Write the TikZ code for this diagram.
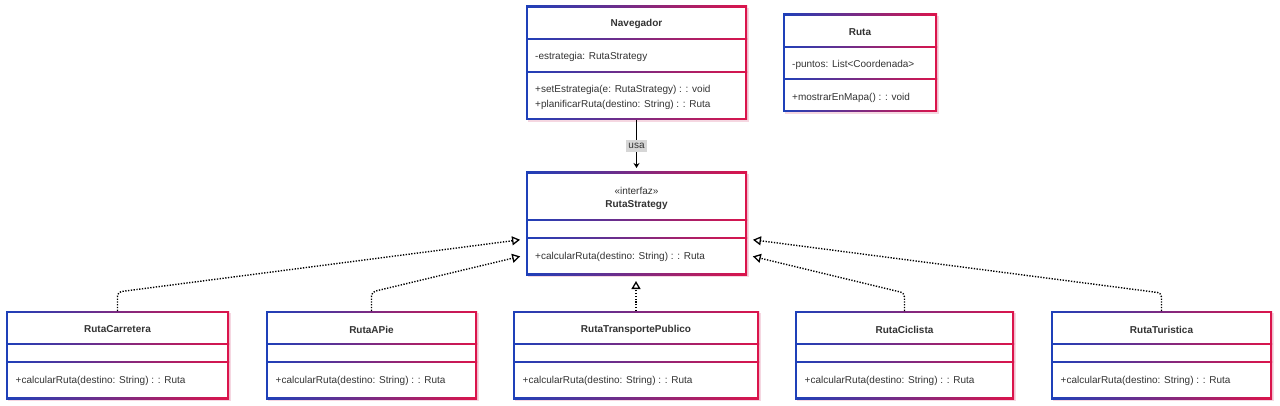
\documentclass[tikz,border=0pt]{standalone}
\usepackage{fontspec}
\setmainfont{Liberation Sans}
\usetikzlibrary{arrows.meta,fit,calc}
\definecolor{cb}{RGB}{30,64,185}
\definecolor{cr}{RGB}{220,20,75}
\definecolor{txt}{RGB}{51,51,51}
\definecolor{lblbg}{RGB}{214,214,214}
\definecolor{shd}{RGB}{245,215,225}
\newcommand{\umlclass}[7]{%
  \fill[shd] (#2+2,#3+2) rectangle (#4+2,#5+2);
  \shade[left color=cb, right color=cr] (#2,#3) rectangle (#4,#5);
  \fill[white] (#2+1.8,#3+1.8) rectangle (#4-1.8,#5-1.8);
  \shade[left color=cb, right color=cr] (#2,#6-0.7) rectangle (#4,#6+0.7);
  \shade[left color=cb, right color=cr] (#2,#7-0.7) rectangle (#4,#7+0.7);
  \node[fit={(#2,#3) (#4,#5)}, inner sep=0pt, outer sep=0pt] (#1) {};
}
\tikzset{
  lbl/.style={text=txt, font=\fontsize{10}{12}\selectfont, inner sep=0pt},
  ttl/.style={lbl, font=\fontsize{10}{12}\selectfont\bfseries},
  mem/.style={lbl, anchor=west},
  realize/.style={draw=black, line width=1.4pt, dash pattern=on 1.3pt off 1.5pt,
    -{Triangle[open, length=8pt, width=9pt, line width=1.3pt]}, shorten >=6pt, rounded corners=4pt},
  uses/.style={draw=black, line width=1.2pt, -{Stealth[length=5pt, width=6pt]}, shorten >=4pt}
}
\begin{document}
\begin{tikzpicture}[x=1pt,y=-1pt]
\path[use as bounding box, fill=white] (0,0) rectangle (1280,406);

% Navegador
\umlclass{nav}{526}{6}{747}{120}{39}{72}
\node[ttl] (navT) at (636.5,24) {Navegador};
\node[mem] (navA) at (535,56.5) {-estrategia: RutaStrategy};
\node[mem] (navM1) at (535,89.5) {+setEstrategia(e: RutaStrategy) : : void};
\node[mem] (navM2) at (535,105) {+planificarRuta(destino: String) : : Ruta};

% Ruta
\umlclass{ruta}{783}{14}{937}{112}{47}{79}
\node[ttl] (rutaT) at (860,32) {Ruta};
\node[mem] (rutaA) at (792,64.5) {-puntos: List<Coordenada>};
\node[mem] (rutaM) at (792,98) {+mostrarEnMapa() : : void};

% RutaStrategy
\umlclass{strat}{526}{172}{747}{275}{220}{238}
\node[lbl] (stratS) at (636.5,190.5) {«interfaz»};
\node[ttl] (stratT) at (636.5,205.5) {RutaStrategy};
\node[mem] (stratM) at (535,256.5) {+calcularRuta(destino: String) : : Ruta};

% Implementations
\umlclass{carr}{6}{311}{229}{399}{344}{362}
\node[ttl] (carrT) at (117.5,329.5) {RutaCarretera};
\node[mem] (carrM) at (15.5,380.5) {+calcularRuta(destino: String) : : Ruta};

\umlclass{apie}{266}{311}{477}{399}{344}{362}
\node[ttl] (apieT) at (371.5,329.5) {RutaAPie};
\node[mem] (apieM) at (275.5,380.5) {+calcularRuta(destino: String) : : Ruta};

\umlclass{transp}{513}{311}{759}{399}{344}{362}
\node[ttl] (transpT) at (636,329.5) {RutaTransportePublico};
\node[mem] (transpM) at (522.5,380.5) {+calcularRuta(destino: String) : : Ruta};

\umlclass{cicl}{795}{311}{1014}{399}{344}{362}
\node[ttl] (ciclT) at (904.5,329.5) {RutaCiclista};
\node[mem] (ciclM) at (804.5,380.5) {+calcularRuta(destino: String) : : Ruta};

\umlclass{turi}{1051}{311}{1272}{399}{344}{362}
\node[ttl] (turiT) at (1161.5,329.5) {RutaTuristica};
\node[mem] (turiM) at (1060.5,380.5) {+calcularRuta(destino: String) : : Ruta};

% uses
\draw[uses] (nav.south -| strat.north) -- node[lbl, fill=lblbg, inner xsep=2pt, inner ysep=3pt, pos=0.5] (usaL) {usa} (strat.north);

% realizations
\draw[realize] (carr.north) -- ++(0,-19) -- ([yshift=-15.5pt]strat.west);
\draw[realize] (apie.north) -- ++(0,-19) -- ([yshift=-31.5pt]strat.west);
\draw[realize] (transp.north) -- ([xshift=-0.5pt]strat.south);
\draw[realize] (cicl.north) -- ++(0,-18) -- ([yshift=-31.5pt]strat.east);
\draw[realize] (turi.north) -- ++(0,-18) -- ([yshift=-15.5pt]strat.east);
\end{tikzpicture}
\end{document}
